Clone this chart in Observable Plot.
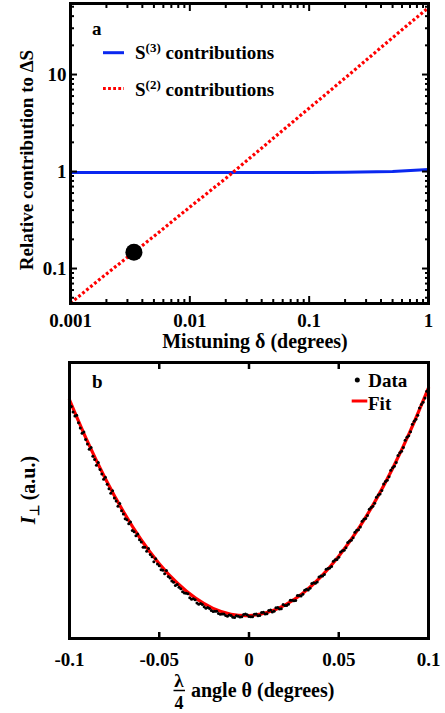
<!DOCTYPE html>
<html><head><meta charset="utf-8">
<script src="https://cdn.jsdelivr.net/npm/d3@7"></script>
<script src="https://cdn.jsdelivr.net/npm/@observablehq/plot@0.6"></script>
<style>
body{margin:0;background:#fff;}
#wrap{position:relative;width:445px;height:713px;overflow:hidden;background:#fff;}
#a{position:absolute;left:0;top:0;}
#b{position:absolute;left:0;top:355px;}
</style></head><body>
<div id="wrap"><div id="a"></div><div id="b"></div></div>
<script>
// ---------- panel a data ----------
const delta = [0.001, 0.002, 0.005, 0.01, 0.02, 0.05, 0.1, 0.2, 0.5, 1];
const s3Values = [0.98, 0.98, 0.98, 0.98, 0.98, 0.98, 0.98, 0.985, 1.0, 1.05];
const s2Values = [0.044, 0.088, 0.215, 0.43, 0.85, 2.2, 4.5, 9.2, 24, 49];
const markerDelta = [0.0034];
const markerValue = [0.147];
const aMajorX = [0.001, 0.01, 0.1, 1];
const aMajorXLabels = ["0.001", "0.01", "0.1", "1"];
const aMinorX = [0.002,0.003,0.004,0.005,0.006,0.007,0.008,0.009,
                 0.02,0.03,0.04,0.05,0.06,0.07,0.08,0.09,
                 0.2,0.3,0.4,0.5,0.6,0.7,0.8,0.9];
const aMajorY = [0.1, 1, 10];
const aMajorYLabels = ["0.1", "1", "10"];
const aMinorY = [0.05,0.06,0.07,0.08,0.09,
                 0.2,0.3,0.4,0.5,0.6,0.7,0.8,0.9,
                 2,3,4,5,6,7,8,9,20,30,40,50];

// ---------- panel b data ----------
const thetaData = [-0.100,-0.098,-0.096,-0.094,-0.092,-0.090,-0.088,-0.086,-0.084,-0.082,
  -0.080,-0.078,-0.076,-0.074,-0.072,-0.070,-0.068,-0.066,-0.064,-0.062,
  -0.060,-0.058,-0.056,-0.054,-0.052,-0.050,-0.048,-0.046,-0.044,-0.042,
  -0.040,-0.038,-0.036,-0.034,-0.032,-0.030,-0.028,-0.026,-0.024,-0.022,
  -0.020,-0.018,-0.016,-0.014,-0.012,-0.010,-0.008,-0.006,-0.004,-0.002,
  0.000,0.002,0.004,0.006,0.008,0.010,0.012,0.014,0.016,0.018,
  0.020,0.022,0.024,0.026,0.028,0.030,0.032,0.034,0.036,0.038,
  0.040,0.042,0.044,0.046,0.048,0.050,0.052,0.054,0.056,0.058,
  0.060,0.062,0.064,0.066,0.068,0.070,0.072,0.074,0.076,0.078,
  0.080,0.082,0.084,0.086,0.088,0.090,0.092,0.094,0.096,0.098,0.100];
const intensityData = [86.0,82.1,80.9,76.3,74.8,70.5,69.2,64.9,63.8,59.6,
  58.4,54.3,53.5,49.8,48.9,45.1,43.0,42.2,38.7,37.9,
  35.0,33.1,32.6,29.6,28.9,26.4,24.7,24.6,21.9,20.4,
  19.6,18.0,16.5,16.2,14.2,14.0,12.4,12.3,11.0,10.9,
  9.8,9.9,8.8,8.9,8.1,8.3,7.6,8.1,7.9,8.9,
  8.0,7.9,8.9,8.3,9.5,9.0,10.3,9.9,11.2,10.8,
  12.0,12.4,13.9,13.8,15.6,16.0,17.8,18.2,20.2,20.5,
  22.6,23.2,25.4,26.1,28.5,29.4,31.8,32.9,35.3,36.5,
  39.2,40.4,43.2,44.6,47.5,49.0,52.0,53.6,56.9,58.6,
  61.9,63.8,67.3,69.2,72.9,74.9,78.7,80.9,84.8,87.1,90.6];
const thetaData2 = [-0.099,-0.097,-0.095,-0.093,-0.091,-0.089,-0.087,-0.085,-0.083,-0.081,
  -0.079,-0.077,-0.075,-0.073,-0.071,-0.069,-0.067,-0.065,-0.063,-0.061,
  -0.059,-0.057,-0.055,-0.053,-0.051,-0.049,-0.047,-0.045,-0.043,-0.041,
  -0.039,-0.037,-0.035,-0.033,-0.031,-0.029,-0.027,-0.025,-0.023,-0.021,
  -0.019,-0.017,-0.015,-0.013,-0.011,-0.009,-0.007,-0.005,-0.003,-0.001,
  0.001,0.003,0.005,0.007,0.009,0.011,0.013,0.015,0.017,0.019,
  0.021,0.023,0.025,0.027,0.029,0.031,0.033,0.035,0.037,0.039,
  0.041,0.043,0.045,0.047,0.049,0.051,0.053,0.055,0.057,0.059,
  0.061,0.063,0.065,0.067,0.069,0.071,0.073,0.075,0.077,0.079,
  0.081,0.083,0.085,0.087,0.089,0.091,0.093,0.095,0.097,0.099];
const intensityData2 = [84.1,80.6,78.2,74.4,72.1,68.6,66.0,62.8,61.2,57.7,
  55.9,52.6,50.9,47.9,46.3,43.4,41.6,39.1,37.2,35.8,
  33.1,31.6,30.4,27.8,27.0,24.9,23.5,22.5,20.8,19.2,
  18.6,16.9,16.4,14.8,14.4,12.9,12.7,11.5,11.2,10.1,
  9.9,9.1,8.9,8.3,8.5,7.7,8.2,7.8,8.7,8.6,
  7.9,8.8,8.2,9.4,8.9,10.1,9.6,11.1,10.7,12.3,
  12.0,13.9,13.7,15.6,15.4,17.5,17.6,19.9,20.0,22.3,
  22.6,25.1,25.5,28.0,28.6,31.3,32.0,34.8,35.6,38.5,
  39.4,42.5,43.5,46.8,47.9,51.2,52.4,56.0,57.3,61.0,
  62.4,66.3,67.8,71.8,73.5,77.6,79.4,83.5,85.6,89.6];
const thetaFit = [-0.1,-0.09,-0.08,-0.07,-0.06,-0.05,-0.04,-0.03,-0.02,-0.01,0,
  0.01,0.02,0.03,0.04,0.05,0.06,0.07,0.08,0.09,0.1];
const intensityFit = [86.5,71.4,57.9,46.0,35.7,27.1,20.1,14.7,10.9,8.8,8.3,
  9.4,12.1,16.4,22.3,29.8,38.8,49.4,61.6,75.4,90.8];
const bMajorX = [-0.1, -0.05, 0, 0.05, 0.1];
const bMajorXLabels = ["-0.1", "-0.05", "0", "0.05", "0.1"];

// ---------- drawing ----------
const FONT = "'Liberation Serif', 'Times New Roman', serif";
const BLUE = "#0a28f0", RED = "#ff0000";
const baseStyle = {fontFamily: FONT, fontSize: "19px", fontWeight: "bold",
  background: "white", color: "black", overflow: "visible"};

const aTable = delta.map((d, i) => ({d, s2: s2Values[i], s3: s3Values[i]}));
const markerTable = markerDelta.map((d, i) => ({d, v: markerValue[i]}));
const fmt = (arr, labels) => d => labels[arr.indexOf(d)];

const plotA = Plot.plot({
  width: 445, height: 355,
  marginLeft: 70, marginRight: 17, marginTop: 3, marginBottom: 52,
  style: baseStyle,
  x: {type: "log", domain: [0.001, 1], label: null},
  y: {type: "log", domain: [0.0436, 54], label: null},
  marks: [
    Plot.line(aTable, {x: "d", y: "s3", stroke: BLUE, strokeWidth: 3}),
    Plot.line(aTable, {x: "d", y: "s2", stroke: RED, strokeWidth: 3.2,
      strokeDasharray: "2.8,2.3", strokeLinecap: "butt", strokeLinejoin: "miter"}),
    Plot.dot(markerTable, {x: "d", y: "v", r: 8.5, fill: "black", stroke: null}),
    Plot.axisX(aMinorX, {anchor: "bottom", tickSize: -4, strokeWidth: 2, fill: "none", label: null}),
    Plot.axisX(aMinorX, {anchor: "top", tickSize: -4, strokeWidth: 2, fill: "none", label: null}),
    Plot.axisX(aMajorX, {anchor: "bottom", tickSize: -7, strokeWidth: 2, fill: "none", label: null}),
    Plot.axisX(aMajorX, {anchor: "top", tickSize: -7, strokeWidth: 2, fill: "none", label: null}),
    Plot.axisX(aMajorX, {anchor: "bottom", tickSize: 0, tickPadding: 9.5, tickFormat: fmt(aMajorX, aMajorXLabels), label: null}),
    Plot.axisY(aMinorY, {anchor: "left", tickSize: -4, strokeWidth: 2, fill: "none", label: null}),
    Plot.axisY(aMinorY, {anchor: "right", tickSize: -4, strokeWidth: 2, fill: "none", label: null}),
    Plot.axisY(aMajorY, {anchor: "left", tickSize: -7, strokeWidth: 2, fill: "none", label: null}),
    Plot.axisY(aMajorY, {anchor: "right", tickSize: -7, strokeWidth: 2, fill: "none", label: null}),
    Plot.axisY(aMajorY, {anchor: "left", tickSize: 0, tickPadding: 4, tickFormat: fmt(aMajorY, aMajorYLabels), label: null}),
    Plot.frame({stroke: "black", strokeWidth: 3})
  ]
});
document.getElementById("a").appendChild(plotA);

const sa = d3.select(plotA);
sa.append("text").attr("x", 92).attr("y", 35).attr("text-anchor", "start").text("a");
// legend
sa.append("line").attr("x1", 103).attr("x2", 124).attr("y1", 52.7).attr("y2", 52.7)
  .attr("stroke", BLUE).attr("stroke-width", 3);
sa.append("line").attr("x1", 103).attr("x2", 124).attr("y1", 88.5).attr("y2", 88.5)
  .attr("stroke", RED).attr("stroke-width", 3.2).attr("stroke-dasharray", "2.8,2.3");
function legendText(sel, y, sup) {
  const t = sel.append("text").attr("x", 135).attr("y", y).attr("text-anchor", "start");
  t.append("tspan").text("S");
  t.append("tspan").attr("font-size", 13).attr("dy", -7).text(sup);
  t.append("tspan").attr("dy", 7).text(" contributions");
}
legendText(sa, 59.3, "(3)");
legendText(sa, 96.3, "(2)");
// axis titles
sa.append("text").attr("x", 255).attr("y", 348).attr("text-anchor", "middle")
  .attr("font-size", 20).text("Mistuning δ (degrees)");
sa.append("text").attr("transform", "translate(33,160) rotate(-90)").attr("text-anchor", "middle")
  .attr("font-size", 19).text("Relative contribution to ΔS");

// ---------- panel b ----------
const bData = thetaData.map((t, i) => ({t, v: intensityData[i]}))
  .concat(thetaData2.map((t, i) => ({t, v: intensityData2[i]})));
const bFit = thetaFit.map((t, i) => ({t, v: intensityFit[i]}));
const plotB = Plot.plot({
  width: 445, height: 358,
  marginLeft: 69, marginRight: 17, marginTop: 7, marginBottom: 75,
  style: baseStyle,
  x: {domain: [-0.1, 0.1], label: null},
  y: {domain: [0, 100], axis: null, label: null},
  marks: [
    Plot.line(bFit, {x: "t", y: "v", stroke: RED, strokeWidth: 3.2, curve: "natural"}),
    Plot.dot(bData, {x: "t", y: "v", r: 1.5, fill: "black", stroke: null}),
    Plot.axisX(bMajorX, {anchor: "bottom", tickSize: -6, strokeWidth: 2.5, fill: "none", label: null}),
    Plot.axisX(bMajorX, {anchor: "top", tickSize: -6, strokeWidth: 2.5, fill: "none", label: null}),
    Plot.axisX(bMajorX, {anchor: "bottom", tickSize: 0, tickPadding: 13.5, tickFormat: fmt(bMajorX, bMajorXLabels), label: null}),
    Plot.frame({stroke: "black", strokeWidth: 3})
  ]
});
document.getElementById("b").appendChild(plotB);

const sb = d3.select(plotB);
sb.append("text").attr("x", 92).attr("y", 33).attr("text-anchor", "start").text("b");
sb.append("circle").attr("cx", 357.3).attr("cy", 25).attr("r", 2.5).attr("fill", "black");
sb.append("text").attr("x", 368.3).attr("y", 31.7).attr("text-anchor", "start").text("Data");
sb.append("line").attr("x1", 351.7).attr("x2", 367.3).attr("y1", 46).attr("y2", 46)
  .attr("stroke", RED).attr("stroke-width", 3);
sb.append("text").attr("x", 368).attr("y", 55).attr("text-anchor", "start").text("Fit");
// x title with fraction λ/4
sb.append("text").attr("x", 179).attr("y", 332).attr("text-anchor", "middle").attr("font-size", 19).text("λ");
sb.append("line").attr("x1", 173.5).attr("x2", 185).attr("y1", 335.5).attr("y2", 335.5)
  .attr("stroke", "black").attr("stroke-width", 1.5);
sb.append("text").attr("x", 179).attr("y", 354).attr("text-anchor", "middle").attr("font-size", 18).text("4");
sb.append("text").attr("x", 191).attr("y", 342).attr("text-anchor", "start").attr("font-size", 20)
  .text("angle θ (degrees)");
// y title
const yt = sb.append("text").attr("transform", "translate(35,135) rotate(-90)")
  .attr("text-anchor", "middle").attr("font-size", 20);
yt.append("tspan").attr("font-style", "italic").text("I");
yt.append("tspan").attr("font-size", 13).attr("dy", 4).text("⊥");
yt.append("tspan").attr("dy", -4).text(" (a.u.)");
</script>
</body></html>
